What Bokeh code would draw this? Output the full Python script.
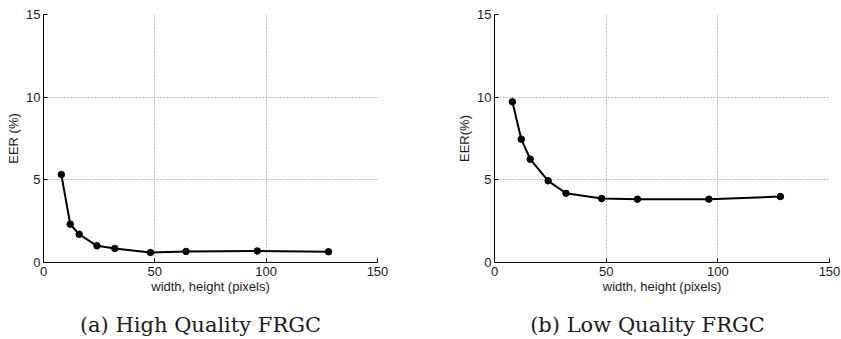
from bokeh.plotting import figure
from bokeh.layouts import row
from bokeh.models import Range1d, FixedTicker, LinearAxis
from bokeh.embed import file_html
from bokeh.resources import INLINE

# Data
sizes = [8, 12, 16, 24, 32, 48, 64, 96, 128]
eer_high = [5.32, 2.32, 1.71, 1.01, 0.85, 0.60, 0.67, 0.70, 0.65]
eer_low = [9.72, 7.46, 6.25, 4.94, 4.19, 3.87, 3.83, 3.83, 3.99]
x_ticks = [0, 50, 100, 150]
y_ticks = [0, 5, 10, 15]
x_label = "width, height (pixels)"
y_labels = ["EER (%)", "EER(%)"]
captions = ["(a) High Quality FRGC", "(b) Low Quality FRGC"]

SANS = "Liberation Sans"
SERIF = "DejaVu Serif"
H = 339


def make_panel(ys, ylab, caption, caption_x, width, mb_left, mb_right):
    p = figure(width=width, height=H, output_backend="svg", toolbar_location=None,
               x_range=Range1d(0, 150), y_range=Range1d(0, 15),
               min_border_left=mb_left, min_border_right=mb_right,
               min_border_top=14, min_border_bottom=H - 14 - 248)
    p.outline_line_color = None
    p.background_fill_color = "white"
    p.border_fill_color = "white"

    for ax, ticks in ((p.xaxis[0], x_ticks), (p.yaxis[0], y_ticks)):
        ax.ticker = FixedTicker(ticks=ticks)
        ax.major_tick_in = 4
        ax.major_tick_out = 0
        ax.minor_tick_line_color = None
        ax.axis_line_color = "black"
        ax.axis_line_width = 1
        ax.major_tick_line_color = "black"
        ax.major_label_text_font = SANS
        ax.major_label_text_font_size = "13px"
        ax.major_label_text_color = "#1a1a1a"
        ax.axis_label_text_font = SANS
        ax.axis_label_text_font_size = "13px"
        ax.axis_label_text_font_style = "normal"
        ax.axis_label_text_color = "#1a1a1a"

    p.xaxis.axis_label = x_label
    p.xaxis.major_label_standoff = 4
    p.xaxis.axis_label_standoff = 0
    p.yaxis.axis_label = ylab
    p.yaxis.major_label_standoff = 3
    p.yaxis.axis_label_standoff = 2

    p.xgrid.ticker = FixedTicker(ticks=x_ticks[1:])
    p.ygrid.ticker = FixedTicker(ticks=y_ticks[1:])
    for g in (p.xgrid[0], p.ygrid[0]):
        g.grid_line_color = "#8a8a8a"
        g.grid_line_dash = "1 2"
        g.grid_line_width = 1

    p.line(sizes, ys, line_color="black", line_width=2)
    p.scatter(sizes, ys, size=6.5, fill_color="black", line_color="black")

    # caption drawn as the single tick label of an invisible extra axis
    cap = LinearAxis(ticker=FixedTicker(ticks=[caption_x]),
                     major_label_overrides={caption_x: caption})
    cap.axis_line_color = None
    cap.major_tick_line_color = None
    cap.minor_tick_line_color = None
    cap.major_tick_in = 0
    cap.major_tick_out = 0
    cap.major_label_standoff = 16
    cap.major_label_text_font = SERIF
    cap.major_label_text_font_size = "21px"
    cap.major_label_text_color = "#1a1a1a"
    p.add_layout(cap, "below")
    return p


p1 = make_panel(eer_high, y_labels[0], captions[0], 70.5, 416, 43, 39)
p2 = make_panel(eer_low, y_labels[1], captions[1], 68.5, 425, 78, 12)

layout = row(p1, p2)
open("out.html", "w").write(file_html(layout, INLINE))
